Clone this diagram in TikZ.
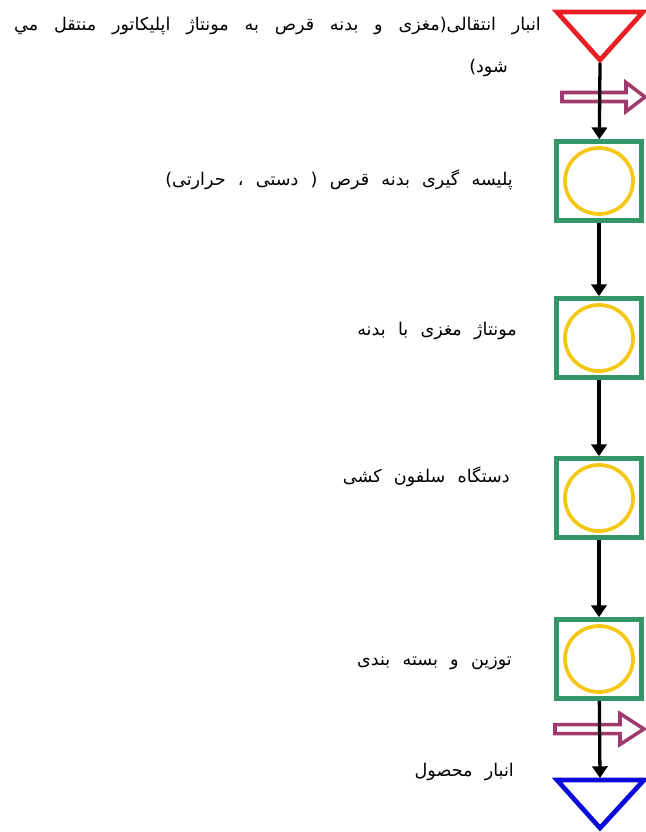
\documentclass[tikz,border=0pt]{standalone}
\usepackage{fontspec}
\newfontfamily\fatext[Script=Arabic]{DejaVu Sans}
\TeXXeTstate=1
\usepackage{tikz}
\usetikzlibrary{arrows.meta,calc,positioning}
\definecolor{procgreen}{RGB}{52,150,104}
\definecolor{ringyellow}{RGB}{244,200,22}
\definecolor{storered}{RGB}{232,30,36}
\definecolor{storeblue}{RGB}{10,10,220}
\definecolor{transpurple}{RGB}{158,58,108}
\newcommand{\lblfont}{\fatext\fontsize{15}{17}\selectfont\spaceskip=0.7em plus 0.1em\relax}
\newcommand{\widefont}{\fatext\fontsize{15}{17}\selectfont\spaceskip=0.9em plus 0.1em\relax}

\begin{document}
\begin{tikzpicture}[x=0.03cm,y=-0.03cm,
  procbox/.style={draw=procgreen,line width=4pt,minimum width=2.55cm,minimum height=2.37cm,inner sep=0pt},
  ring/.style={draw=ringyellow,line width=3.2pt},
  flow/.style={line width=2.8pt,-{Triangle[width=13pt,length=10pt]}},
  transfer/.style={draw=transpurple,line width=3pt,fill=white},
  lbl/.style={anchor=east,inner sep=0pt,font=\lblfont}]
\useasboundingbox (0,0) rectangle (646,832);

% store in and out
\draw[draw=storered,line width=4pt,line join=miter] (557,12) -- (643,12) -- (600,60) -- cycle;
\draw[draw=storeblue,line width=4pt,line join=miter] (557,780) -- (644,780) -- (600,828) -- cycle;
\coordinate (s1) at (600,63);
\coordinate (s2) at (600,778);

% operations
\node[procbox] (b1) at (599,181) {};
\node[procbox] (b2) at (599,338) {};
\node[procbox] (b3) at (599,498) {};
\node[procbox] (b4) at (599,659) {};
\foreach \b in {b1,b2,b3,b4}
  \draw[ring] (\b.center) ellipse [x radius=1.02cm, y radius=0.99cm];

% transport
\draw[transfer] (562,92.5) -- (626,92.5) -- (626,82.5) -- (645,97) -- (626,111.5) -- (626,101.5) -- (562,101.5) -- cycle;
\draw[transfer] (555,724.5) -- (620,724.5) -- (620,713.5) -- (644,729) -- (620,744.5) -- (620,733.5) -- (555,733.5) -- cycle;

\draw[flow] (s1) -- (b1);
\draw[flow] (b1) -- (b2);
\draw[flow] (b2) -- (b3);
\draw[flow] (b3) -- (b4);
\draw[flow] (b4) -- (s2);

% labels
\node[lbl,font=\widefont] (t1) at (541,26) {\beginR انبار انتقالی(مغزی و بدنه قرص به مونتاژ اپلیکاتور منتقل مي\endR};
\node[lbl] (t1b) at (508,68) {\beginR شود)\endR};
\node[lbl] (t2) at (513,180) {\beginR پلیسه گیری بدنه قرص ( دستی ، حرارتی)\endR};
\node[lbl] (t3) at (517,331) {\beginR مونتاژ مغزی با بدنه\endR};
\node[lbl] (t4) at (510,477) {\beginR دستگاه سلفون کشی\endR};
\node[lbl] (t5) at (512,663) {\beginR توزین و بسته بندی\endR};
\node[lbl] (t6) at (514,772) {\beginR انبار محصول\endR};
\end{tikzpicture}
\end{document}
